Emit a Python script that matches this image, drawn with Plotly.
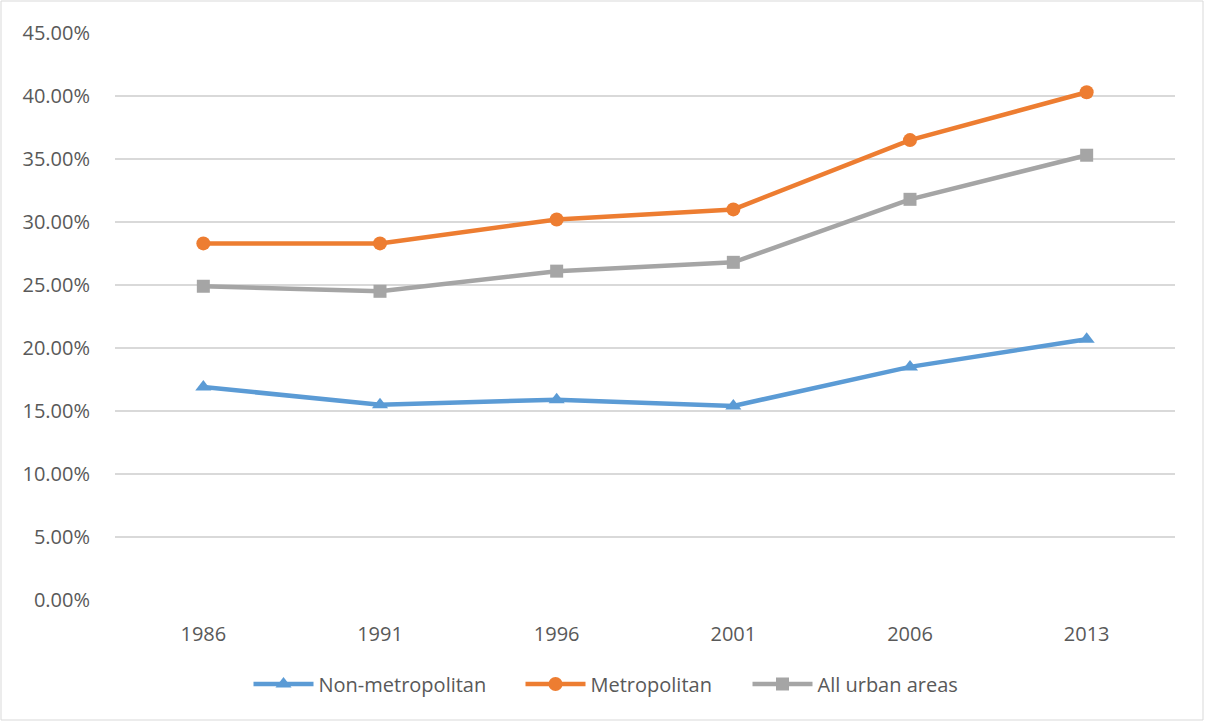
import plotly.graph_objects as go

years = ["1986", "1991", "1996", "2001", "2006", "2013"]
non_metro = [0.169, 0.155, 0.159, 0.154, 0.185, 0.207]
metro = [0.283, 0.283, 0.302, 0.310, 0.365, 0.403]
all_urban = [0.249, 0.245, 0.261, 0.268, 0.318, 0.353]
yticks = [0, 0.05, 0.10, 0.15, 0.20, 0.25, 0.30, 0.35, 0.40, 0.45]

fig = go.Figure()
fig.add_trace(go.Scatter(x=years, y=non_metro, name="Non-metropolitan", mode="lines+markers",
                         line=dict(color="#5B9BD5", width=4.5), legendwidth=197,
                         marker=dict(symbol="triangle-up", size=14, color="#5B9BD5")))
fig.add_trace(go.Scatter(x=years, y=metro, name="Metropolitan", mode="lines+markers",
                         line=dict(color="#ED7D31", width=4.5), legendwidth=152,
                         marker=dict(symbol="circle", size=14, color="#ED7D31")))
fig.add_trace(go.Scatter(x=years, y=all_urban, name="All urban areas", mode="lines+markers",
                         line=dict(color="#A5A5A5", width=4.5),
                         marker=dict(symbol="square", size=13, color="#A5A5A5")))

W, H = 1205, 722
l, r, t, b = 115, 30, 33, 122
pw, ph = W - l - r, H - t - b

def px(x):
    return (x - l) / pw

def py(y):
    return (H - b - y) / ph

fig.add_shape(type="rect", xref="paper", yref="paper",
              x0=px(1), x1=px(1203), y0=py(720), y1=py(1),
              line=dict(color="#D9D9D9", width=1), fillcolor="rgba(0,0,0,0)")

fig.update_layout(
    width=W, height=H,
    margin=dict(l=l, r=r, t=t, b=b),
    paper_bgcolor="white", plot_bgcolor="white",
    font=dict(family="Open Sans, sans-serif", size=20, color="#595959"),
    legend=dict(orientation="h", x=px(606), xanchor="center", y=py(684), yanchor="middle",
                font=dict(size=20, color="#595959"), itemwidth=60, traceorder="normal"),
    xaxis=dict(type="category", range=[-0.5, 5.5], showgrid=False, showline=False, ticks="",
               tickfont=dict(size=20, color="#595959"), ticklabelstandoff=20),
    yaxis=dict(range=[0, 0.45], tickvals=yticks, tickformat=".2%",
               showgrid=True, gridcolor="#D9D9D9", gridwidth=1.5, zeroline=False,
               showline=False, ticks="", tickfont=dict(size=20, color="#595959"),
               ticklabelstandoff=24),
)

fig.write_html("out.html", config={"displayModeBar": False},
               post_script="document.body.style.margin='0';")
